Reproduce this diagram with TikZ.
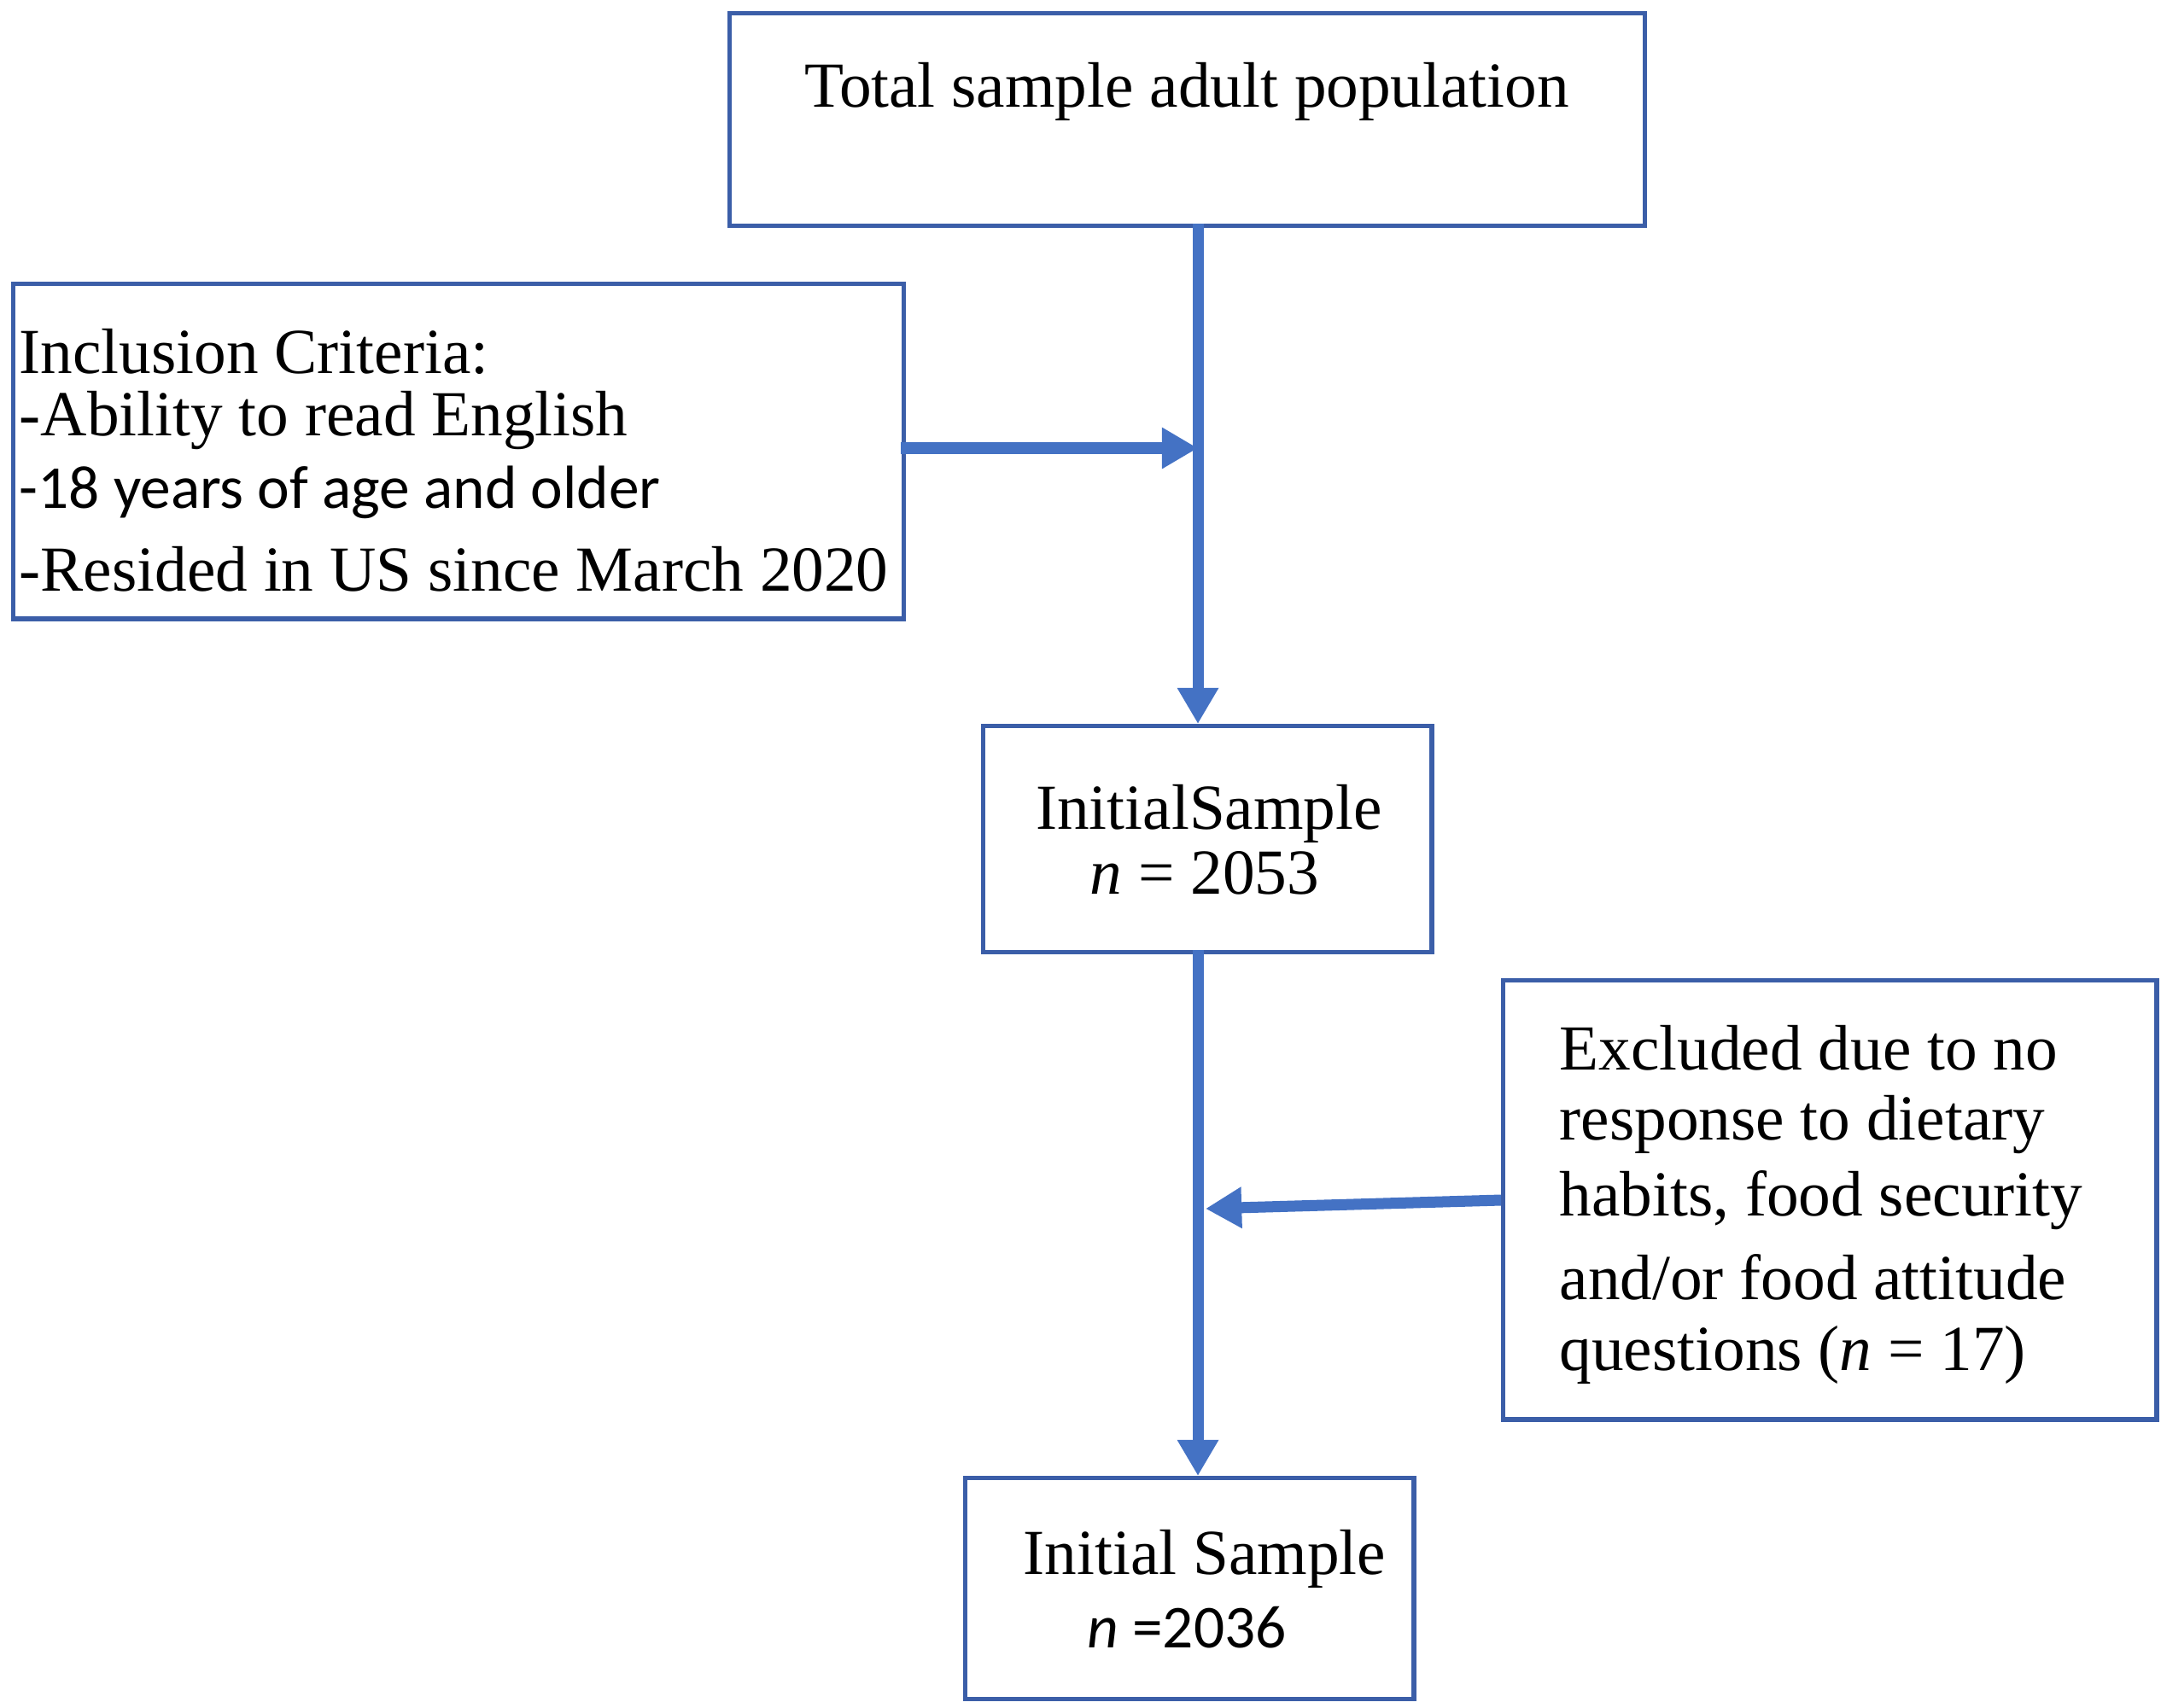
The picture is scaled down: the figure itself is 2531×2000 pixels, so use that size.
\documentclass[tikz,border=0pt]{standalone}
\usepackage{fontspec}
\setmainfont{Liberation Serif}
\newfontfamily\carlitofont{Carlito}
\usetikzlibrary{arrows.meta}
\definecolor{lineblue}{HTML}{4472C4}
\definecolor{boxblue}{HTML}{3B5EA8}
\tikzset{
  boxnode/.style={draw=boxblue, line width=1.5pt, inner sep=0pt, anchor=north west},
  txt/.style={inner sep=0pt, font=\fontsize{21.4}{25}\selectfont},
  sanstxt/.style={inner sep=0pt, font=\carlitofont\fontsize{20.3}{24}\selectfont},
  flow/.style={draw=lineblue, line width=3.7pt, -{Triangle[length=12pt,width=13pt]}}
}
\begin{document}
\begin{tikzpicture}[x=0.01cm,y=-0.01cm]
\useasboundingbox (0,0) rectangle (2531,2000);
% boxes
\node[boxnode, minimum width=10.71cm, minimum height=2.49cm] (top) at (852,13) {};
\node[boxnode, minimum width=10.42cm, minimum height=3.92cm] (incl) at (13,330) {};
\node[boxnode, minimum width=5.25cm, minimum height=2.65cm] (init) at (1149,848) {};
\node[boxnode, minimum width=7.65cm, minimum height=5.14cm] (excl) at (1758,1146) {};
\node[boxnode, minimum width=5.25cm, minimum height=2.59cm] (final) at (1128,1729) {};
% texts
\node[txt] (ttop) at (1390,107) {Total sample adult population};
\node[txt, anchor=west] (i1) at (22,412) {Inclusion Criteria:};
\node[txt, anchor=west] (i2) at (22,493) {-Ability to read English};
\node[sanstxt, anchor=west] (i3) at (22,577) {-18 years of age and older};
\node[txt, anchor=west] (i4) at (22,667) {-Resided in US since March 2020};
\node[txt] (n1) at (1416,953) {InitialSample};
\node[txt] (n2) at (1411,1023) {\textit{n} = 2053};
\node[txt, anchor=west] (e1) at (1826,1228) {Excluded due to no};
\node[txt, anchor=west] (e2) at (1826,1317) {response to dietary};
\node[txt, anchor=west] (e3) at (1826,1406) {habits, food security};
\node[txt, anchor=west] (e4) at (1826,1496) {and/or food attitude};
\node[txt, anchor=west] (e5) at (1826,1587) {questions (\textit{n} = 17)};
\node[txt] (f1) at (1411,1826) {Initial Sample};
\node[sanstxt] (f2) at (1390,1907) {\textit{n} =2036};
% connector coordinates
\coordinate (a0) at (1403,262);
\coordinate (a1) at (1403,848);
\coordinate (j1) at (1403,525);
\coordinate (b0) at (1403,1113);
\coordinate (b1) at (1403,1729);
\coordinate (j2) at (1412,1416);
\coordinate (ex) at (1758,1406);
\coordinate (ic) at (1055,525);
\draw[flow] (a0) -- (a1);
\draw[flow] (b0) -- (b1);
\draw[flow] (ic) -- (j1);
\draw[flow] (ex) -- (j2);
\end{tikzpicture}
\end{document}
